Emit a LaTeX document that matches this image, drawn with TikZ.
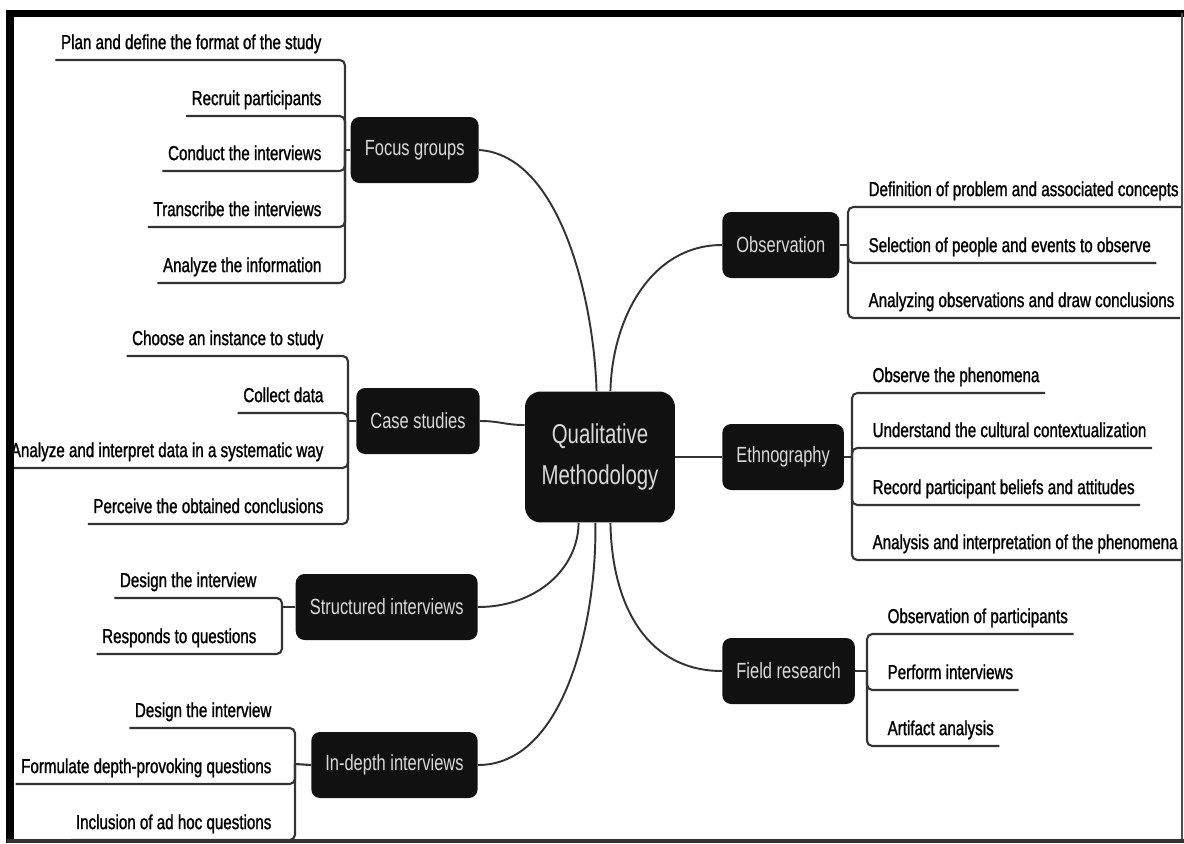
\documentclass[tikz,border=0pt]{standalone}
\usepackage{fontspec}
\setmainfont{Liberation Sans}[FakeStretch=0.75]
\newfontfamily\leaffont{Liberation Sans}[FakeStretch=0.75, FakeBold=1.2]
\usetikzlibrary{positioning}

\definecolor{boxfill}{HTML}{111111}
\definecolor{boxtext}{HTML}{D9D9D9}
\definecolor{linegray}{HTML}{333333}

\tikzset{
    topic/.style={fill=boxfill, text=boxtext, rounded corners=5pt, minimum height=1.32cm,
        inner xsep=8pt, font=\fontsize{12.5}{14}\selectfont},
    leafl/.style={anchor=south east, inner xsep=3pt, inner ysep=3.5pt, text depth=0.25em,
        font=\leaffont\fontsize{11.5}{13}\selectfont},
    leafr/.style={leafl, anchor=south west},
    branch/.style={draw=linegray, line width=1.2pt, rounded corners=3pt},
    link/.style={draw=linegray, line width=1.1pt}
}

\begin{document}
\begin{tikzpicture}[x=0.02cm, y=-0.02cm]
    \useasboundingbox (0,0) rectangle (1184,843);

    \node[fill=boxfill, text=boxtext, rounded corners=9pt, minimum width=3cm, minimum height=2.62cm,
        align=center, font=\fontsize{15.5}{23}\selectfont] (qm) at (600,457) {Qualitative\\Methodology};

    \node[topic, anchor=east] (fg) at (479,150) {Focus groups};
    \node[topic, anchor=east] (cs) at (480,421) {Case studies};
    \node[topic, anchor=east] (si) at (478,607) {Structured interviews};
    \node[topic, anchor=east] (id) at (478,765) {In-depth interviews};
    \node[topic, anchor=west] (ob) at (722,245) {Observation};
    \node[topic, anchor=west] (et) at (722,457) {Ethnography};
    \node[topic, anchor=west] (fr) at (722,671) {Field research};

    \draw[link] (fg.east) .. controls (560,155) and (594,300) .. (qm.93);
    \draw[link] (cs.east) .. controls (500,421) and (505,425) .. (qm.157);
    \draw[link] (si.east) .. controls (535,607) and (578,570) .. (qm.252);
    \draw[link] (id.east) .. controls (565,765) and (597,620) .. (qm.266);
    \draw[link] (qm.81) .. controls (612,320) and (650,245) .. (ob.west);
    \draw[link] (qm.east) -- (et.west);
    \draw[link] (qm.279) .. controls (612,610) and (650,671) .. (fr.west);

    \coordinate (fgb) at (345,150);
    \coordinate (csb) at (348,421);
    \coordinate (sib) at (282,607);
    \coordinate (idb) at (295,764);
    \coordinate (obb) at (848,245);
    \coordinate (etb) at (852,457);
    \coordinate (frb) at (867,671);

    \node[leafl] (fg1) at (327,60) {Plan and define the format of the study};
    \node[leafl] (fg2) at (327,116) {Recruit participants};
    \node[leafl] (fg3) at (327,171) {Conduct the interviews};
    \node[leafl] (fg4) at (327,227) {Transcribe the interviews};
    \node[leafl] (fg5) at (327,283) {Analyze the information};

    \node[leafl] (cs1) at (329,356) {Choose an instance to study};
    \node[leafl] (cs2) at (329,413) {Collect data};
    \node[leafl] (cs3) at (329,468) {Analyze and interpret data in a systematic way};
    \node[leafl] (cs4) at (329,524) {Perceive the obtained conclusions};

    \node[leafl] (si1) at (262,598) {Design the interview};
    \node[leafl] (si2) at (262,654) {Responds to questions};

    \node[leafl] (id1) at (277,728) {Design the interview};
    \node[leafl] (id2) at (277,784) {Formulate depth-provoking questions};
    \node[leafl] (id3) at (277,840) {Inclusion of ad hoc questions};

    \node[leafr] (ob1) at (863,207) {Definition of problem and associated concepts};
    \node[leafr] (ob2) at (863,263) {Selection of people and events to observe};
    \node[leafr] (ob3) at (863,318) {Analyzing observations and draw conclusions};

    \node[leafr] (et1) at (867,393) {Observe the phenomena};
    \node[leafr] (et2) at (867,448) {Understand the cultural contextualization};
    \node[leafr] (et3) at (867,505) {Record participant beliefs and attitudes};
    \node[leafr] (et4) at (867,560) {Analysis and interpretation of the phenomena};

    \node[leafr] (fr1) at (882,634) {Observation of participants};
    \node[leafr] (fr2) at (882,690) {Perform interviews};
    \node[leafr] (fr3) at (882,746) {Artifact analysis};

    \draw[branch] (fg.west) -- (fgb);
    \foreach \i in {1,...,5}
        \draw[branch] (fgb) |- (fg\i.south west);
    \draw[branch] (cs.west) -- (csb);
    \foreach \i in {1,...,4}
        \draw[branch] (csb) |- (cs\i.south west);
    \draw[branch] (si.west) -- (sib);
    \foreach \i in {1,2}
        \draw[branch] (sib) |- (si\i.south west);
    \draw[branch] (id.west) -- (idb);
    \foreach \i in {1,2,3}
        \draw[branch] (idb) |- (id\i.south west);
    \draw[branch] (ob.east) -- (obb);
    \foreach \i in {1,2,3}
        \draw[branch] (obb) |- (ob\i.south east);
    \draw[branch] (et.east) -- (etb);
    \foreach \i in {1,...,4}
        \draw[branch] (etb) |- (et\i.south east);
    \draw[branch] (fr.east) -- (frb);
    \foreach \i in {1,2,3}
        \draw[branch] (frb) |- (fr\i.south east);

    \fill[white] (0,0) rectangle (8,843);
    \fill[white] (1182,0) rectangle (1184,843);
    \draw[line width=4pt] (7,13.5) -- (1184,13.5);
    \draw[line width=4pt] (10,10) -- (10,843);
    \draw[line width=1pt, black!70] (1182,13) -- (1182,843);
    \draw[line width=2.5pt, black!80] (7,841) -- (1184,841);
\end{tikzpicture}
\end{document}
